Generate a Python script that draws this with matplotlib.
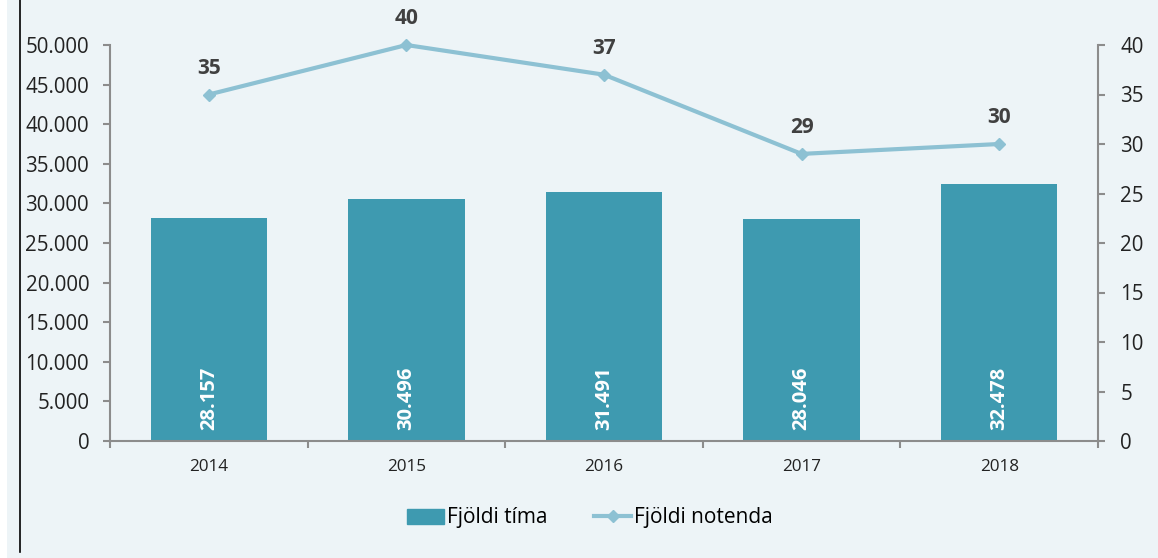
import matplotlib.pyplot as plt
import matplotlib.patches as mpatches
from matplotlib.lines import Line2D
import numpy as np

plt.rcParams['font.family'] = ['Open Sans', 'DejaVu Sans']

years = ['2014', '2015', '2016', '2017', '2018']
hours = [28157, 30496, 31491, 28046, 32478]
users = [35, 40, 37, 29, 30]
hour_labels = ['28.157', '30.496', '31.491', '28.046', '32.478']

BG = '#EDF4F7'
BAR = '#3E9AB0'
LINE = '#8DC1D3'
AXC = '#8C8C8C'

fig = plt.figure(figsize=(11.58, 5.58), dpi=100, facecolor=BG)
fig.patches.append(mpatches.Rectangle((0, 0), 7/1158, 1, transform=fig.transFigure,
                                      facecolor='white', edgecolor='none', zorder=0))
fig.lines.append(Line2D([20/1158, 20/1158], [6/558, 1], transform=fig.transFigure,
                        color='black', lw=1.2))

ax = fig.add_axes([110/1158, 1-441/558, 988/1158, 396/558])
ax.set_facecolor('none')
x = np.arange(len(years))
ax.bar(x, hours, width=0.59, color=BAR, zorder=2)
for xi, lab in zip(x, hour_labels):
    ax.annotate(lab, (xi, 0), xytext=(0, 11), textcoords='offset pixels',
                rotation=90, ha='center', va='bottom', color='white',
                fontsize=14.5, fontweight='bold')

ax.set_xlim(-0.5, 4.5)
ax.set_ylim(0, 50000)
ax.set_yticks(np.arange(0, 50001, 5000))
ax.set_yticklabels([f'{v:,}'.replace(',', '.') for v in range(0, 50001, 5000)],
                   fontsize=14.8, color='#222222')
ax.set_xticks(x)
ax.set_xticklabels(years, fontsize=12.3, color='#222222')
ax.set_xticks(np.arange(-0.5, 5, 1), minor=True)
ax.tick_params(axis='x', which='major', length=0, pad=13)
ax.tick_params(axis='x', which='minor', length=5, width=1.5, color=AXC)
ax.tick_params(axis='y', length=5, width=1.5, color=AXC, pad=10)
for s in ['top', 'right']:
    ax.spines[s].set_visible(False)
for s in ['left', 'bottom']:
    ax.spines[s].set_color(AXC)
    ax.spines[s].set_linewidth(1.5)

ax2 = ax.twinx()
ax2.plot(x, users, color=LINE, lw=3, marker='D', markersize=6, zorder=3, clip_on=False)
for xi, v in zip(x, users):
    ax2.annotate(str(v), (xi, v), xytext=(0, 16), textcoords='offset pixels',
                 ha='center', va='bottom', fontsize=15, fontweight='bold', color='#404040')
ax2.set_ylim(0, 40)
ax2.set_yticks(np.arange(0, 41, 5))
ax2.tick_params(axis='y', length=5, width=1.5, color=AXC, labelsize=14.8,
                labelcolor='#222222', pad=11)
for s in ['top', 'left', 'bottom']:
    ax2.spines[s].set_visible(False)
ax2.spines['right'].set_color(AXC)
ax2.spines['right'].set_linewidth(1.5)

handles = [mpatches.Patch(color=BAR),
           Line2D([], [], color=LINE, lw=3, marker='D', markersize=6)]
fig.legend(handles, ['Fjöldi tíma', 'Fjöldi notenda'], loc='center',
           bbox_to_anchor=(590/1158, 1-518/558), ncol=2, frameon=False,
           fontsize=15, handlelength=1.8, handletextpad=0.15, columnspacing=2.2)

fig.savefig('out.png', dpi=100, facecolor=BG)
